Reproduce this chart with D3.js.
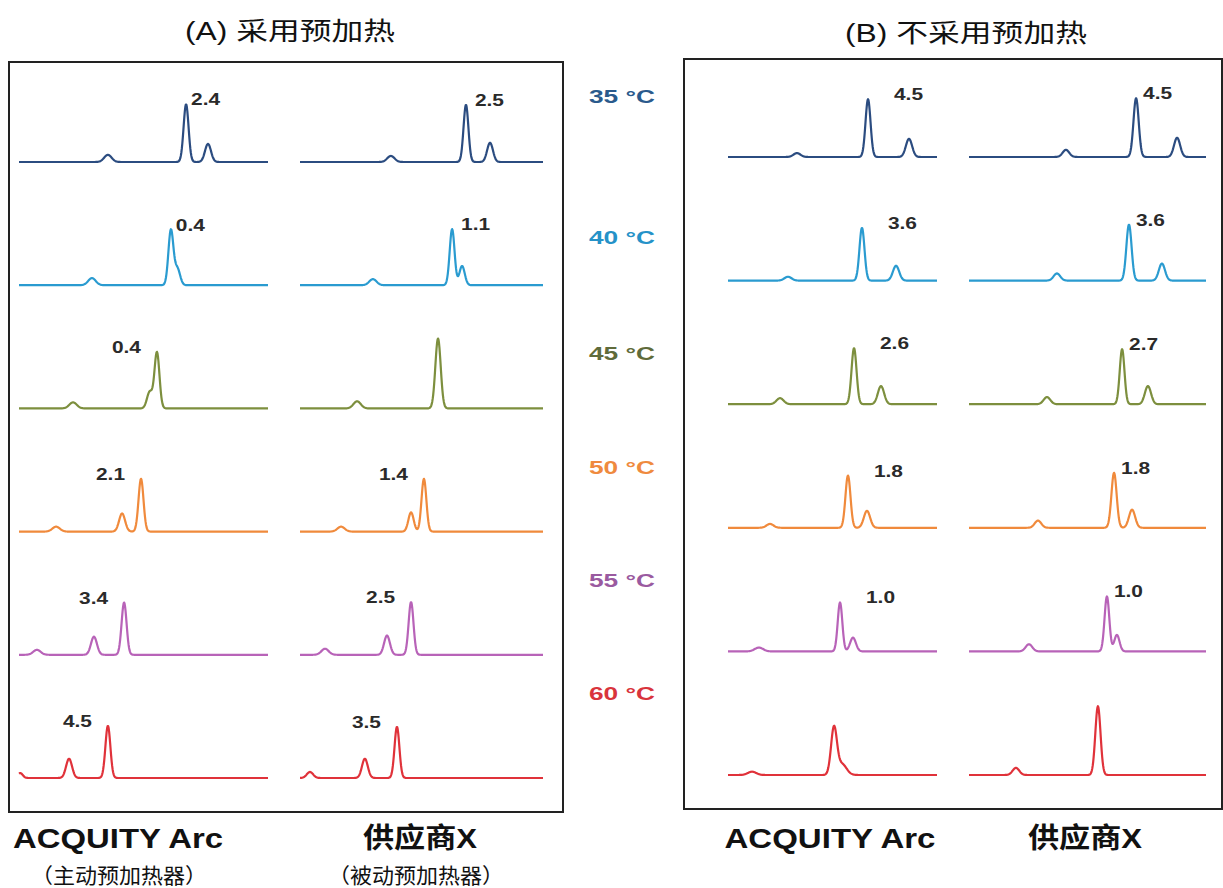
<!DOCTYPE html>
<html>
<head>
<meta charset="utf-8">
<script src="https://cdn.jsdelivr.net/npm/d3@7"></script>
<style>
  body { margin: 0; background: #fff; }
  text { font-family: "Liberation Sans", Arial, "Noto Sans CJK SC", sans-serif; }
</style>
</head>
<body>
<svg width="1223" height="888"></svg>
<script>
// temperatures (rows)
const temps = ["35 °C", "40 °C", "45 °C", "50 °C", "55 °C", "60 °C"];

// peaks per trace: [retention time (0-10), height (1 = main peak), width]
const peaksA1 = [
  [[3.57, 0.13, 0.15], [6.71, 1.05, 0.10], [7.59, 0.33, 0.12]],
  [[2.93, 0.13, 0.15], [6.10, 1.00, 0.10], [6.36, 0.30, 0.11]],
  [[2.17, 0.11, 0.15], [5.25, 0.30, 0.11], [5.54, 1.02, 0.10]],
  [[1.49, 0.09, 0.15], [4.14, 0.33, 0.12], [4.90, 0.96, 0.10]],
  [[0.72, 0.09, 0.15], [3.01, 0.33, 0.12], [4.22, 0.95, 0.10]],
  [[0.05, 0.09, 0.10], [2.01, 0.35, 0.12], [3.57, 0.95, 0.10]]
];
const peaksA2 = [
  [[3.74, 0.11, 0.15], [6.83, 1.04, 0.10], [7.82, 0.35, 0.12]],
  [[3.00, 0.11, 0.15], [6.26, 1.02, 0.10], [6.67, 0.35, 0.11]],
  [[2.35, 0.13, 0.15], [5.68, 1.27, 0.11]],
  [[1.69, 0.09, 0.15], [4.57, 0.35, 0.11], [5.10, 0.96, 0.10]],
  [[1.03, 0.11, 0.15], [3.58, 0.35, 0.12], [4.57, 0.96, 0.10]],
  [[0.41, 0.11, 0.13], [2.67, 0.35, 0.12], [3.99, 0.93, 0.10]]
];
const peaksB1 = [
  [[3.30, 0.07, 0.17], [6.70, 1.05, 0.12], [8.66, 0.33, 0.15]],
  [[2.87, 0.07, 0.17], [6.41, 0.96, 0.12], [8.04, 0.27, 0.15]],
  [[2.49, 0.11, 0.17], [6.03, 1.02, 0.12], [7.32, 0.33, 0.15]],
  [[2.01, 0.07, 0.17], [5.74, 0.95, 0.12], [6.65, 0.31, 0.15]],
  [[1.48, 0.07, 0.20], [5.36, 0.89, 0.11], [5.98, 0.25, 0.14]],
  [[1.15, 0.06, 0.20], [5.07, 0.85, 0.14], [5.45, 0.20, 0.22]]
];
const peaksB2 = [
  [[4.09, 0.13, 0.14], [7.05, 1.07, 0.11], [8.78, 0.35, 0.13]],
  [[3.71, 0.13, 0.14], [6.75, 1.02, 0.11], [8.14, 0.31, 0.13]],
  [[3.29, 0.13, 0.14], [6.46, 1.00, 0.10], [7.55, 0.33, 0.13]],
  [[2.91, 0.13, 0.14], [6.12, 1.00, 0.11], [6.88, 0.33, 0.13]],
  [[2.53, 0.13, 0.14], [5.82, 1.00, 0.10], [6.24, 0.30, 0.11]],
  [[1.98, 0.13, 0.14], [5.44, 1.25, 0.11]]
];

// resolution labels
const labelsA1 = ["2.4", "0.4", "0.4", "2.1", "3.4", "4.5"];
const labelsA2 = ["2.5", "1.1", null, "1.4", "2.5", "3.5"];
const labelsB1 = ["4.5", "3.6", "2.6", "1.8", "1.0", null];
const labelsB2 = ["4.5", "3.6", "2.7", "1.8", "1.0", null];

const titles = ["(A) 采用预加热", "(B) 不采用预加热"];
const systems = ["ACQUITY Arc", "供应商X"];
const heaters = ["（主动预加热器）", "（被动预加热器）"];

// styling
const lineColors = ["#2b4c80", "#2a9bd0", "#7d8f3e", "#f08a3c", "#b863b8", "#e0323a"];
const tempColors = ["#2a5a8c", "#2592c8", "#5f6b3a", "#ef8a3e", "#9a5aa0", "#d9343c"];

const svg = d3.select("svg");

const panels = [
  { box: [9, 62, 554, 750], rows: [162, 778], title: [290, 40, 210],
    cols: [
      { range: [19, 268], peaks: peaksA1, labels: labelsA1, side: ["r","r","l","l","l","l"], dx: 5, sys: [118, 210], heat: [119, 176] },
      { range: [300, 543], peaks: peaksA2, labels: labelsA2, side: ["r","r","l","l","l","l"], dx: 9, sys: [420, 114], heat: [416, 176] }
    ] },
  { box: [684, 59, 538, 750], rows: [157, 775], title: [966, 42, 242],
    cols: [
      { range: [728, 937], peaks: peaksB1, labels: labelsB1, side: ["r","r","r","r","r","r"], dx: 26, sys: [830, 211], heat: null },
      { range: [969, 1206], peaks: peaksB2, labels: labelsB2, side: ["r","r","r","r","r","r"], dx: 7, sys: [1085, 114], heat: null }
    ] }
];

const yScale = d3.scaleLinear().domain([0, 1]).range([0, -55]);
const times = d3.range(0, 10.001, 0.02);

function signal(peaks, t) {
  return d3.sum(peaks, p => p[1] * Math.exp(-0.5 * Math.pow((t - p[0]) / p[2], 2)));
}

panels.forEach((panel, pi) => {
  svg.append("rect")
    .attr("x", panel.box[0]).attr("y", panel.box[1])
    .attr("width", panel.box[2]).attr("height", panel.box[3])
    .attr("fill", "none").attr("stroke", "#222").attr("stroke-width", 2);

  svg.append("text")
    .attr("x", panel.title[0]).attr("y", panel.title[1])
    .attr("text-anchor", "middle")
    .attr("font-size", 25)
    .attr("textLength", panel.title[2]).attr("lengthAdjust", "spacingAndGlyphs")
    .attr("fill", "#111")
    .text(titles[pi]);

  const rowScale = d3.scalePoint().domain(temps).range(panel.rows);

  panel.cols.forEach((col, ci) => {
    const x = d3.scaleLinear().domain([0, 10]).range(col.range);
    const line = d3.line()
      .x(t => x(t))
      .curve(d3.curveLinear);

    const traces = svg.append("g")
      .selectAll("g")
      .data(col.peaks)
      .enter()
      .append("g")
      .attr("transform", (d, i) => `translate(0, ${rowScale(temps[i])})`);

    traces.append("path")
      .attr("fill", "none")
      .attr("stroke", (d, i) => lineColors[i])
      .attr("stroke-width", 2.2)
      .attr("stroke-linejoin", "round")
      .attr("d", d => line.y(t => yScale(signal(d, t)))(times));

    traces.filter((d, i) => col.labels[i] !== null)
      .append("text")
      .attr("x", d => {
        const main = d3.greatest(d, p => p[1]);
        const i = col.peaks.indexOf(d);
        return col.side[i] === "r" ? x(main[0]) + col.dx : x(main[0]) - 16;
      })
      .attr("y", d => yScale(d3.max(d, p => p[1])) + 1)
      .attr("text-anchor", d => col.side[col.peaks.indexOf(d)] === "r" ? "start" : "end")
      .attr("font-size", 16.5)
      .attr("font-weight", "bold")
      .attr("textLength", 29).attr("lengthAdjust", "spacingAndGlyphs")
      .attr("fill", "#2a2a2a")
      .text(d => col.labels[col.peaks.indexOf(d)]);

    svg.append("text")
      .attr("x", col.sys[0]).attr("y", 848)
      .attr("text-anchor", "middle")
      .attr("font-size", 28)
      .attr("font-weight", "bold")
      .attr("textLength", col.sys[1]).attr("lengthAdjust", "spacingAndGlyphs")
      .attr("fill", "#111")
      .text(systems[ci]);

    if (col.heat) {
      svg.append("text")
        .attr("x", col.heat[0]).attr("y", 883)
        .attr("text-anchor", "middle")
        .attr("font-size", 21)
        .attr("textLength", col.heat[1]).attr("lengthAdjust", "spacingAndGlyphs")
        .attr("fill", "#111")
        .text(heaters[ci]);
    }
  });
});

// temperature labels between the panels
const tempLabelY = [96, 237, 353, 467, 580, 693];
svg.append("g")
  .selectAll("text")
  .data(temps)
  .enter()
  .append("text")
  .attr("x", 622)
  .attr("y", (d, i) => tempLabelY[i] + 7)
  .attr("text-anchor", "middle")
  .attr("font-size", 18)
  .attr("font-weight", "bold")
  .attr("textLength", 66).attr("lengthAdjust", "spacingAndGlyphs")
  .attr("fill", (d, i) => tempColors[i])
  .text(d => d);
</script>
</body>
</html>
